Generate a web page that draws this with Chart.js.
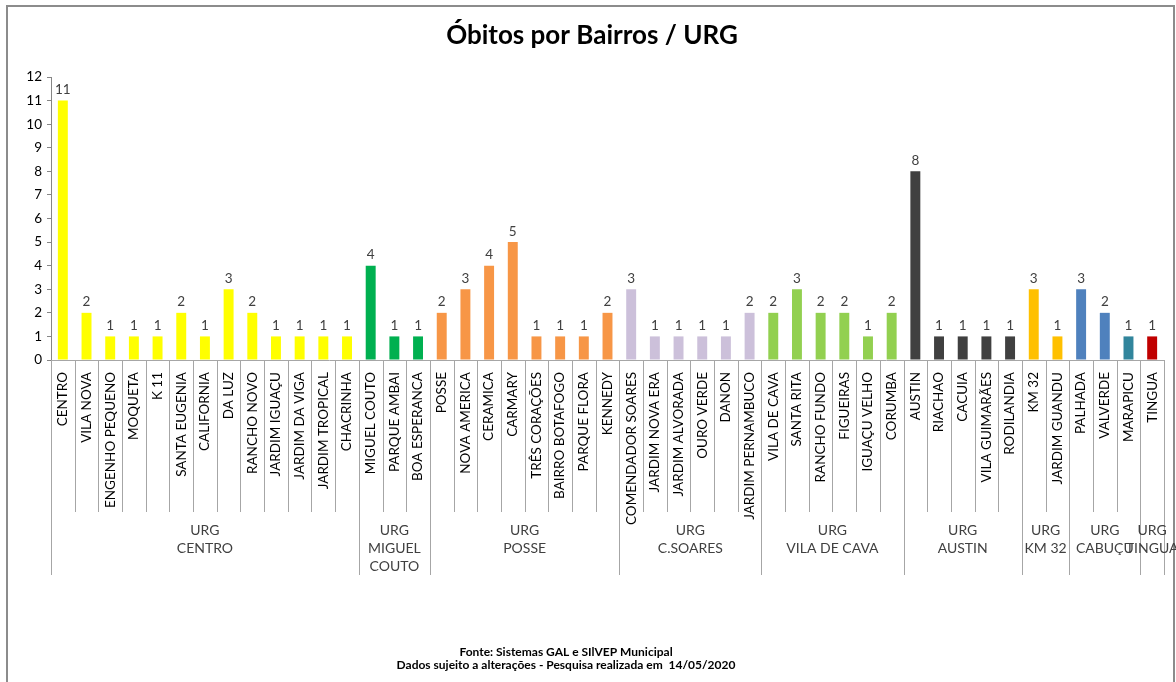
<!DOCTYPE html>
<html>
<head>
<meta charset="utf-8">
<script src="https://cdn.jsdelivr.net/npm/chart.js@4"></script>
<style>
  html, body { margin: 0; padding: 0; background: #fff; }
  #box { width: 1176px; height: 682px; position: relative; }
</style>
</head>
<body>
<div id="box"><canvas id="obitos"></canvas></div>
<script>
/* ====== dados ====== */
const bairros = [
  'CENTRO', 'VILA NOVA', 'ENGENHO PEQUENO', 'MOQUETA', 'K 11', 'SANTA EUGENIA', 'CALIFORNIA', 'DA LUZ',
  'RANCHO NOVO', 'JARDIM IGUAÇU', 'JARDIM DA VIGA', 'JARDIM TROPICAL', 'CHACRINHA',
  'MIGUEL COUTO', 'PARQUE AMBAI', 'BOA ESPERANCA',
  'POSSE', 'NOVA AMERICA', 'CERAMICA', 'CARMARY', 'TRÊS CORAÇÕES', 'BAIRRO BOTAFOGO', 'PARQUE FLORA', 'KENNEDY',
  'COMENDADOR SOARES', 'JARDIM NOVA ERA', 'JARDIM ALVORADA', 'OURO VERDE', 'DANON', 'JARDIM PERNAMBUCO',
  'VILA DE CAVA', 'SANTA RITA', 'RANCHO FUNDO', 'FIGUEIRAS', 'IGUAÇU VELHO', 'CORUMBA',
  'AUSTIN', 'RIACHAO', 'CACUIA', 'VILA GUIMARÃES', 'RODILANDIA',
  'KM 32', 'JARDIM GUANDU',
  'PALHADA', 'VALVERDE', 'MARAPICU',
  'TINGUA'
];
const obitos = [
  11, 2, 1, 1, 1, 2, 1, 3, 2, 1, 1, 1, 1,
  4, 1, 1,
  2, 3, 4, 5, 1, 1, 1, 2,
  3, 1, 1, 1, 1, 2,
  2, 3, 2, 2, 1, 2,
  8, 1, 1, 1, 1,
  3, 1,
  3, 2, 1,
  1
];
const urgNomes = [
  ['URG', 'CENTRO'], ['URG', 'MIGUEL', 'COUTO'], ['URG', 'POSSE'], ['URG', 'C.SOARES'],
  ['URG', 'VILA DE CAVA'], ['URG', 'AUSTIN'], ['URG', 'KM 32'], ['URG', 'CABUÇU'], ['URG', 'TINGUA']
];
const urgQtd = [13, 3, 8, 6, 6, 5, 2, 3, 1];
const yTicks = [0, 1, 2, 3, 4, 5, 6, 7, 8, 9, 10, 11, 12];

/* cores das barras, por URG */
const urgCores = [
  ['#FFFF00'], ['#00B050'], ['#F79646'], ['#CCC0DA'], ['#92D050'],
  ['#404040'], ['#FFC000'], ['#4F81BD', '#4F81BD', '#31859C'], ['#C00000']
];
const coresBarras = [];
urgQtd.forEach((n, g) => {
  for (let i = 0; i < n; i++) {
    const c = urgCores[g];
    coresBarras.push(c[Math.min(i, c.length - 1)]);
  }
});

const FONTE = 'Lato, "Open Sans", sans-serif';

/* ====== plugin: moldura, titulo, rotulos, separadores, rodape ====== */
const extras = {
  id: 'extras',
  afterDraw(chart) {
    const ctx = chart.ctx;
    const x = chart.scales.x;
    const area = chart.chartArea;
    ctx.save();

    // moldura
    ctx.strokeStyle = '#8c8c8c';
    ctx.lineWidth = 2;
    ctx.strokeRect(7, 6, 1167, 700);

    // titulo
    ctx.fillStyle = '#000';
    ctx.font = 'bold 26px ' + FONTE;
    ctx.textAlign = 'center';
    ctx.textBaseline = 'middle';
    ctx.fillText('Óbitos por Bairros / URG', 592, 36);

    // valores acima das barras
    const meta = chart.getDatasetMeta(0);
    ctx.font = '13.5px ' + FONTE;
    ctx.fillStyle = '#404040';
    ctx.textBaseline = 'bottom';
    meta.data.forEach((bar, i) => {
      ctx.fillText(String(obitos[i]), bar.x, bar.y - 4);
    });

    // separadores entre bairros e URGs
    const passo = x.getPixelForValue(1) - x.getPixelForValue(0);
    const limites = new Set([0]);
    let acc = 0;
    urgQtd.forEach(n => { acc += n; limites.add(acc); });
    ctx.strokeStyle = '#a6a6a6';
    ctx.lineWidth = 1;
    for (let i = 0; i <= bairros.length; i++) {
      const px = Math.round(x.getPixelForValue(i) - passo / 2) + 0.5;
      ctx.beginPath();
      ctx.moveTo(px, area.bottom);
      ctx.lineTo(px, limites.has(i) ? area.bottom + 215 : area.bottom + 152);
      ctx.stroke();
    }

    // nomes das URGs
    ctx.font = '14px ' + FONTE;
    ctx.fillStyle = '#404040';
    ctx.textBaseline = 'middle';
    let ini = 0;
    urgQtd.forEach((n, g) => {
      const cx = (x.getPixelForValue(ini) + x.getPixelForValue(ini + n - 1)) / 2;
      urgNomes[g].forEach((linha, k) => {
        ctx.fillText(linha, cx, area.bottom + 170 + k * 18);
      });
      ini += n;
    });

    // rodape
    ctx.fillStyle = '#000';
    ctx.font = 'bold 12px ' + FONTE;
    ctx.fillText('Fonte: Sistemas GAL e SIlVEP Municipal', 566, 652);
    ctx.fillText('Dados sujeito a alterações - Pesquisa realizada em  14/05/2020', 566, 665);

    ctx.restore();
  }
};

const ctx1 = document.getElementById('obitos');
new Chart(ctx1, {
  type: 'bar',
  data: {
    labels: bairros,
    datasets: [{
      label: 'Óbitos',
      data: obitos,
      backgroundColor: coresBarras,
      borderWidth: 0,
      categoryPercentage: 1,
      barPercentage: 0.42
    }]
  },
  options: {
    responsive: true,
    maintainAspectRatio: false,
    animation: false,
    layout: { padding: { left: 0, top: 77, right: 12, bottom: 107 } },
    plugins: {
      legend: { display: false },
      tooltip: { enabled: false }
    },
    scales: {
      x: {
        grid: { display: false },
        border: { color: '#a6a6a6' },
        ticks: {
          autoSkip: false,
          minRotation: 90,
          maxRotation: 90,
          padding: 4,
          color: '#000',
          font: { family: FONTE, size: 13.5 }
        },
        afterFit(s) { s.height = 215; }
      },
      y: {
        min: 0,
        max: 12,
        afterBuildTicks(s) { s.ticks = yTicks.map(v => ({ value: v })); },
        grid: { drawOnChartArea: false, tickLength: 4, color: '#868686' },
        border: { color: '#868686' },
        ticks: {
          padding: 5,
          color: '#000',
          font: { family: FONTE, size: 13.5 }
        },
        afterFit(s) { s.width = 51; }
      }
    }
  },
  plugins: [extras]
});
</script>
</body>
</html>
